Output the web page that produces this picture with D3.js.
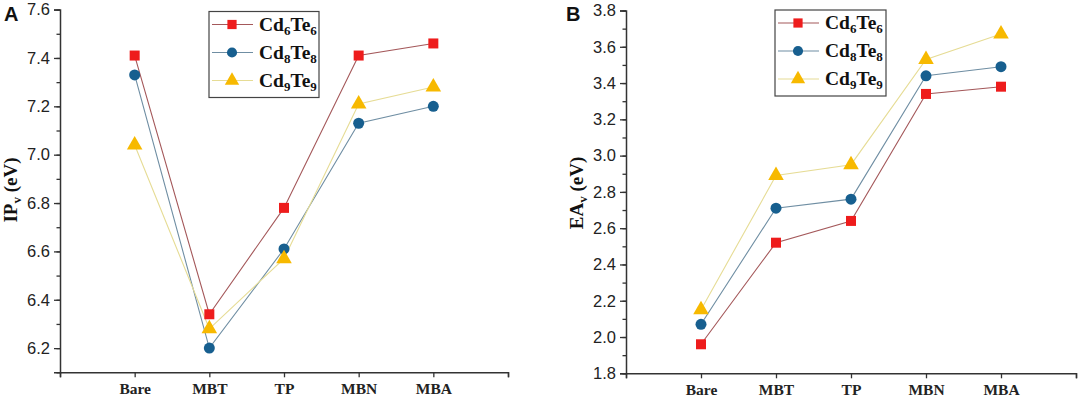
<!DOCTYPE html>
<html><head><meta charset="utf-8">
<script src="https://cdn.jsdelivr.net/npm/d3@7"></script>
<style>
body{margin:0;background:#fff;}
svg{display:block;}
</style></head>
<body>
<svg id="chart" width="1079" height="399"></svg>
<script>
const categories = ["Bare","MBT","TP","MBN","MBA"];
const seriesNames = ["Cd6Te6","Cd8Te8","Cd9Te9"];
const ipCd6Te6 = [7.41, 6.34, 6.78, 7.41, 7.46];
const ipCd8Te8 = [7.33, 6.20, 6.61, 7.13, 7.20];
const ipCd9Te9 = [7.04, 6.28, 6.57, 7.21, 7.28];
const eaCd6Te6 = [1.96, 2.52, 2.64, 3.34, 3.38];
const eaCd8Te8 = [2.07, 2.71, 2.76, 3.44, 3.49];
const eaCd9Te9 = [2.15, 2.89, 2.95, 3.53, 3.67];
const ipTicks = [6.2, 6.4, 6.6, 6.8, 7.0, 7.2, 7.4, 7.6];
const eaTicks = [1.8, 2.0, 2.2, 2.4, 2.6, 2.8, 3.0, 3.2, 3.4, 3.6, 3.8];

const svg = d3.select("#chart");
const styles = [
  {line:"#a4585a", fill:"#ee1c1c", shape:d3.symbolSquare, size:100},
  {line:"#6f8ea3", fill:"#175f8f", shape:d3.symbolCircle, size:95},
  {line:"#e6dc95", fill:"#f7b900", shape:d3.symbolTriangle, size:105}
];

function panel(opt){
  const g = svg.append("g");
  const x = d3.scaleLinear().domain([0, categories.length+1]).range([opt.x0, opt.x1]);
  const y = d3.scaleLinear().domain(opt.ydom).range([opt.y0, opt.y1]);
  const ya = g.append("g").attr("transform",`translate(${opt.x0},0)`)
    .call(d3.axisLeft(y).tickValues(opt.ticks).tickFormat(d3.format(".1f")).tickSize(6).tickPadding(4));
  const minor = d3.range(Math.round(opt.ydom[0]*10), Math.round(opt.ydom[1]*10)+1).map(d=>d/10);
  g.append("g").attr("transform",`translate(${opt.x0},0)`)
    .call(d3.axisLeft(y).tickValues(minor).tickSize(3.5).tickFormat(""))
    .call(s=>s.select(".domain").remove());
  const xa = g.append("g").attr("transform",`translate(0,${opt.y0})`)
    .call(d3.axisBottom(x).tickValues(d3.range(0, categories.length+2))
      .tickFormat(i=> (i>=1 && i<=categories.length) ? categories[i-1] : "").tickSize(5).tickPadding(6));
  [ya, xa].forEach(a=>{
    a.select(".domain").attr("stroke","#333").attr("stroke-width",1.5);
  });
  g.selectAll(".tick line").attr("stroke","#333").attr("stroke-width",1.3);
  ya.selectAll("text").attr("font-family","'Liberation Sans', Arial, sans-serif").attr("font-size",16.5).attr("fill","#222");
  xa.selectAll("text").attr("font-family","'Liberation Serif', 'Times New Roman', serif").attr("font-size",15.5).attr("font-weight","bold").attr("fill","#222");
  opt.data.forEach((vals, si)=>{
    const st = styles[si];
    g.append("path").datum(vals)
      .attr("fill","none").attr("stroke",st.line).attr("stroke-width",1.1)
      .attr("d", d3.line().x((d,i)=>x(i+1)).y(d=>y(d)));
  });
  opt.data.forEach((vals, si)=>{
    const st = styles[si];
    g.selectAll(null).data(vals).enter().append("path")
      .attr("transform",(d,i)=>`translate(${x(i+1)},${y(d)})`)
      .attr("d", d3.symbol().type(st.shape).size(st.size))
      .attr("fill", st.fill);
  });
  const L = opt.legend;
  g.append("rect").attr("x",L.x).attr("y",L.y).attr("width",L.w).attr("height",L.h)
    .attr("fill","#fff").attr("stroke","#444").attr("stroke-width",1.2);
  const subs = [["6","6"],["8","8"],["9","9"]];
  seriesNames.forEach((n, si)=>{
    const st = styles[si];
    const cy = L.y + 13 + si*28;
    g.append("line").attr("x1",L.x+3).attr("x2",L.x+44).attr("y1",cy).attr("y2",cy)
      .attr("stroke",st.line).attr("stroke-width",1.1);
    g.append("path").attr("transform",`translate(${L.x+23},${cy})`)
      .attr("d", d3.symbol().type(st.shape).size(st.size*0.85)).attr("fill",st.fill);
    const t = g.append("text").attr("x",L.x+50).attr("y",cy+6)
      .attr("font-family","'Liberation Serif', 'Times New Roman', serif").attr("font-weight","bold")
      .attr("font-size",19.5).attr("fill","#111");
    t.append("tspan").text("Cd");
    t.append("tspan").text(subs[si][0]).attr("font-size",13).attr("dy",4);
    t.append("tspan").text("Te").attr("dy",-4);
    t.append("tspan").text(subs[si][1]).attr("font-size",13).attr("dy",4);
  });
  const yl = g.append("text")
    .attr("transform",`translate(${opt.labelX},${opt.labelY}) rotate(-90)`)
    .attr("text-anchor","middle")
    .attr("font-family","'Liberation Serif', 'Times New Roman', serif").attr("font-weight","bold")
    .attr("font-size",19).attr("fill","#111");
  yl.append("tspan").text(opt.label);
  yl.append("tspan").text("v").attr("font-size",13).attr("dy",4);
  yl.append("tspan").text(" (eV)").attr("dy",-4);
  g.append("text").attr("x",opt.letterX).attr("y",21).text(opt.letter)
    .attr("font-family","'Liberation Sans', Arial, sans-serif").attr("font-weight","bold")
    .attr("font-size",20).attr("fill","#111");
}

panel({x0:60, x1:508, y0:372.3, y1:9.6, ydom:[6.1,7.6], ticks:ipTicks,
  data:[ipCd6Te6, ipCd8Te8, ipCd9Te9],
  legend:{x:209, y:11.5, w:110, h:86},
  label:"IP", labelX:17, labelY:190, letter:"A", letterX:4});
panel({x0:626, x1:1076, y0:373.3, y1:10.5, ydom:[1.8,3.8], ticks:eaTicks,
  data:[eaCd6Te6, eaCd8Te8, eaCd9Te9],
  legend:{x:775, y:10, w:111, h:86},
  label:"EA", labelX:583, labelY:193, letter:"B", letterX:566});
</script>
</body></html>
